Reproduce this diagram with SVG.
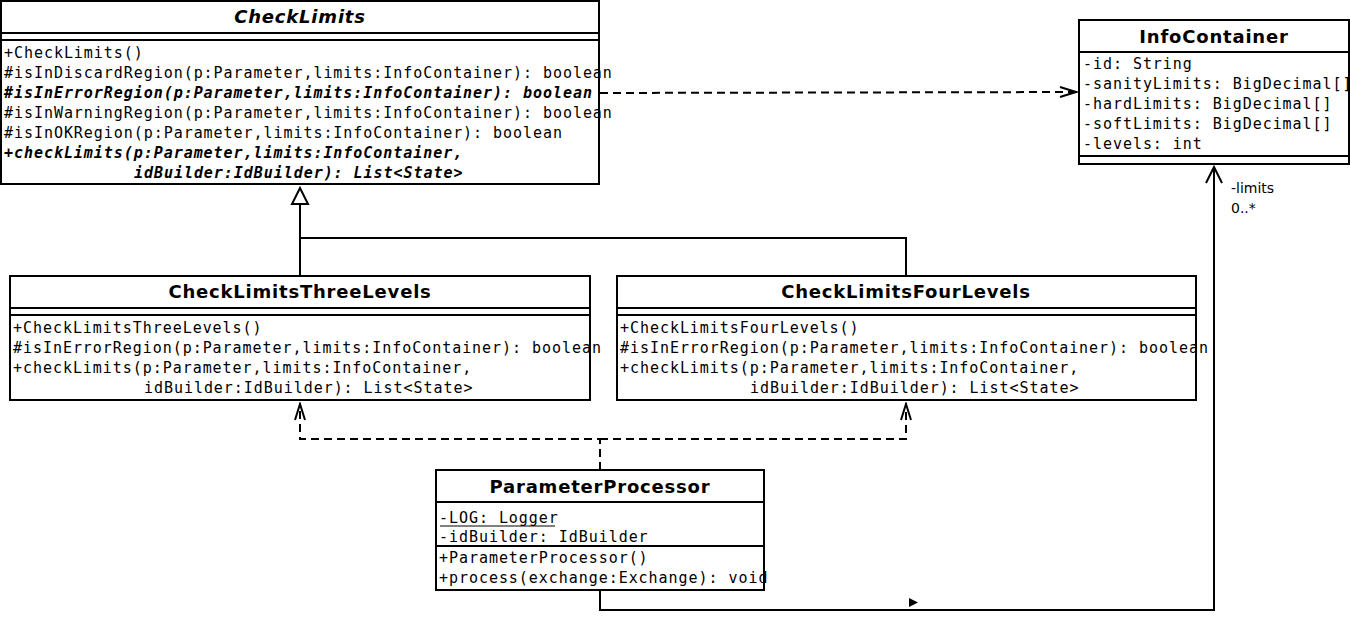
<svg xmlns="http://www.w3.org/2000/svg" width="1350" height="622" viewBox="0 0 1350 622">
  <style>
    .box { fill: #ffffff; stroke: #000000; stroke-width: 2; }
    .sep { stroke: #000000; stroke-width: 2; }
    .title { font-family: "DejaVu Sans", sans-serif; font-weight: bold; font-size: 18px; letter-spacing: 0.8px; text-anchor: middle; fill: #000; }
    .abstract { font-style: italic; }
    .mono { font-family: "DejaVu Sans Mono", monospace; font-size: 15px; letter-spacing: 0.95px; fill: #000; }
    .bi { font-weight: bold; font-style: italic; }
    .lbl { font-family: "DejaVu Sans", sans-serif; font-size: 14px; fill: #000; }
    .line { fill: none; stroke: #000000; stroke-width: 2; }
    .dash { fill: none; stroke: #000000; stroke-width: 2; stroke-dasharray: 8 5; }
  </style>
  <defs>
    <marker id="open" viewBox="0 0 20 20" refX="18" refY="10" markerWidth="20" markerHeight="20" markerUnits="userSpaceOnUse" orient="auto">
      <path d="M2,2 L18,10 L2,18" fill="none" stroke="#000" stroke-width="2"/>
    </marker>
    <marker id="openNarrow" viewBox="0 0 20 20" refX="18" refY="10" markerWidth="20" markerHeight="20" markerUnits="userSpaceOnUse" orient="auto">
      <path d="M2,5 L18,10 L2,15" fill="none" stroke="#000" stroke-width="2"/>
    </marker>
  </defs>

  <!-- connectors -->
  <g id="connectors">
    <!-- generalization -->
    <path class="line" d="M300,276 L300,204"/>
    <path class="line" d="M906,276 L906,238 L300,238"/>
    <polygon points="300,188 292,204 308,204" fill="#fff" stroke="#000" stroke-width="2"/>
    <!-- dependency CheckLimits -> InfoContainer -->
    <path class="dash" d="M600,93 L1076,92" marker-end="url(#openNarrow)"/>
    <!-- dependencies ParameterProcessor -> subclasses -->
    <path class="dash" d="M600,470 L600,439 L300,439 L300,404" marker-end="url(#openNarrow)"/>
    <path class="dash" d="M600,439 L906,439 L906,404" marker-end="url(#openNarrow)"/>
    <!-- association ParameterProcessor -> InfoContainer -->
    <path class="line" d="M600,590 L600,610 L1214,610 L1214,167" marker-end="url(#open)"/>
    <polygon points="909,598 918,602.5 909,607" fill="#000"/>
    <text class="lbl" x="1231" y="193">-limits</text>
    <text class="lbl" x="1231" y="213">0..*</text>
  </g>

  <!-- CheckLimits -->
  <g id="CheckLimits">
    <rect class="box" x="1" y="1" width="598" height="183"/>
    <line class="sep" x1="1" y1="33" x2="599" y2="33"/>
    <line class="sep" x1="1" y1="40" x2="599" y2="40"/>
    <text class="title abstract" x="300" y="23">CheckLimits</text>
    <text class="mono" x="4" y="58">+CheckLimits()</text>
    <text class="mono" x="4" y="78">#isInDiscardRegion(p:Parameter,limits:InfoContainer): boolean</text>
    <text class="mono bi" x="4" y="98">#isInErrorRegion(p:Parameter,limits:InfoContainer): boolean</text>
    <text class="mono" x="4" y="118">#isInWarningRegion(p:Parameter,limits:InfoContainer): boolean</text>
    <text class="mono" x="4" y="138">#isInOKRegion(p:Parameter,limits:InfoContainer): boolean</text>
    <text class="mono bi" x="4" y="158">+checkLimits(p:Parameter,limits:InfoContainer,</text>
    <text class="mono bi" x="134" y="178">idBuilder:IdBuilder): List&lt;State&gt;</text>
  </g>

  <!-- InfoContainer -->
  <g id="InfoContainer">
    <rect class="box" x="1079" y="20" width="270" height="144"/>
    <line class="sep" x1="1079" y1="52" x2="1349" y2="52"/>
    <line class="sep" x1="1079" y1="156" x2="1349" y2="156"/>
    <text class="title" x="1214" y="43">InfoContainer</text>
    <text class="mono" x="1083" y="69">-id: String</text>
    <text class="mono" x="1083" y="89">-sanityLimits: BigDecimal[]</text>
    <text class="mono" x="1083" y="109">-hardLimits: BigDecimal[]</text>
    <text class="mono" x="1083" y="129">-softLimits: BigDecimal[]</text>
    <text class="mono" x="1083" y="149">-levels: int</text>
  </g>

  <!-- CheckLimitsThreeLevels -->
  <g id="CheckLimitsThreeLevels">
    <rect class="box" x="10" y="276" width="580" height="124"/>
    <line class="sep" x1="10" y1="308" x2="590" y2="308"/>
    <line class="sep" x1="10" y1="315" x2="590" y2="315"/>
    <text class="title" x="300" y="298">CheckLimitsThreeLevels</text>
    <text class="mono" x="13" y="333">+CheckLimitsThreeLevels()</text>
    <text class="mono" x="13" y="353">#isInErrorRegion(p:Parameter,limits:InfoContainer): boolean</text>
    <text class="mono" x="13" y="373">+checkLimits(p:Parameter,limits:InfoContainer,</text>
    <text class="mono" x="144" y="393">idBuilder:IdBuilder): List&lt;State&gt;</text>
  </g>

  <!-- CheckLimitsFourLevels -->
  <g id="CheckLimitsFourLevels">
    <rect class="box" x="617" y="276" width="579" height="124"/>
    <line class="sep" x1="617" y1="308" x2="1196" y2="308"/>
    <line class="sep" x1="617" y1="315" x2="1196" y2="315"/>
    <text class="title" x="906" y="298">CheckLimitsFourLevels</text>
    <text class="mono" x="620" y="333">+CheckLimitsFourLevels()</text>
    <text class="mono" x="620" y="353">#isInErrorRegion(p:Parameter,limits:InfoContainer): boolean</text>
    <text class="mono" x="620" y="373">+checkLimits(p:Parameter,limits:InfoContainer,</text>
    <text class="mono" x="750" y="393">idBuilder:IdBuilder): List&lt;State&gt;</text>
  </g>

  <!-- ParameterProcessor -->
  <g id="ParameterProcessor">
    <rect class="box" x="436" y="470" width="328" height="120"/>
    <line class="sep" x1="436" y1="502" x2="764" y2="502"/>
    <line class="sep" x1="436" y1="546" x2="764" y2="546"/>
    <text class="title" x="600" y="493">ParameterProcessor</text>
    <text class="mono" x="439" y="523">-LOG: Logger</text>
    <line x1="440" y1="526" x2="555" y2="526" stroke="#000" stroke-width="1"/>
    <text class="mono" x="439" y="542">-idBuilder: IdBuilder</text>
    <text class="mono" x="439" y="563">+ParameterProcessor()</text>
    <text class="mono" x="439" y="583">+process(exchange:Exchange): void</text>
  </g>
</svg>
